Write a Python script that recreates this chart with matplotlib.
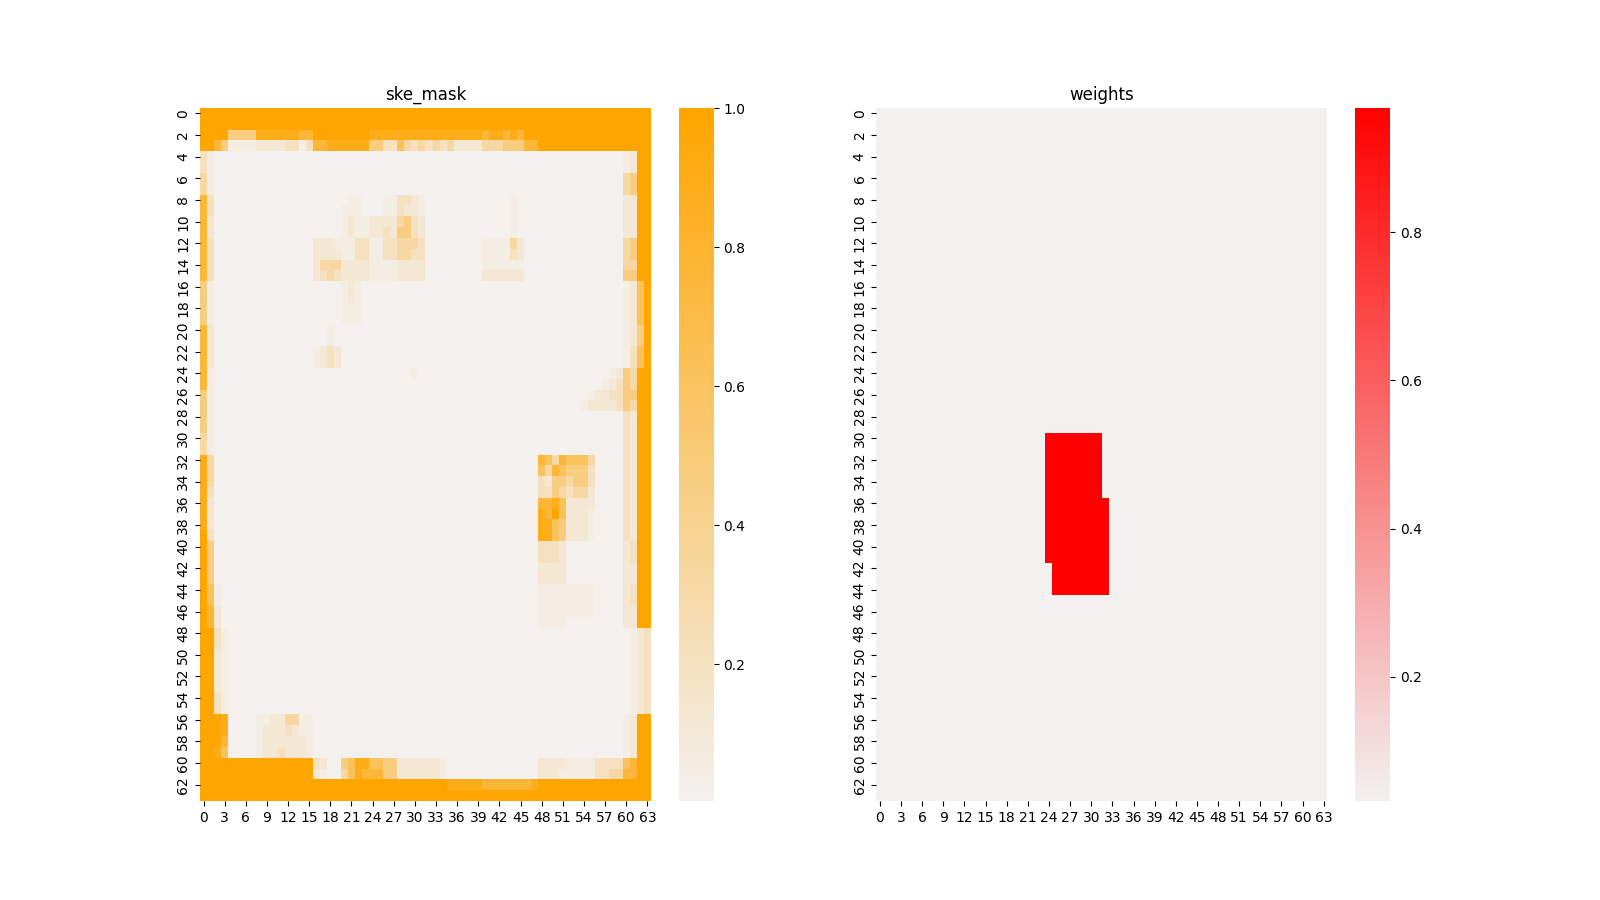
import numpy as np
import matplotlib
matplotlib.use("Agg")
import matplotlib.pyplot as plt
import seaborn as sns

# ske_mask: one string per row (64 cells, 8 groups of 8),
# each digit is an index into MASK_LEVELS
MASK_LEVELS = [0.003, 0.05, 0.11, 0.2, 0.32, 0.47, 0.62, 0.76, 0.89, 1.0]

MASK_ROWS = [
    "99999999 99999999 99999999 99999999 99999999 99999999 99999999 99999999",  # 0
    "99999999 99999999 99999999 99999999 99999999 99999999 99999999 99999999",
    "99995555 88888877 99999999 88888888 88888888 78878799 99999999 99999999",
    "99751111 22223313 77888888 55336434 34342222 44455577 99999999 99999999",
    "31000000 00000000 00000000 00000000 00000000 00000000 00000000 00001299",
    "31000000 00000000 00000000 00000000 00000000 00000000 00000000 00001299",
    "41000000 00000000 00000000 00000000 00000000 00000000 00000000 00004599",
    "41000000 00000000 00000000 00000000 00000000 00000000 00000000 00004599",
    "73000000 00000000 00000110 00113321 00000000 00001000 00000000 00002299",  # 8
    "73000000 00000000 00001110 00113221 00000000 00001000 00000000 00002299",
    "72000000 00000000 00001211 22224532 00000000 00001000 00000000 00002299",
    "72000000 00000000 00001211 22325532 00000000 00001000 00000000 00002299",
    "73000000 00000000 22211133 11334443 00000000 11114200 00000000 00004599",
    "73000000 00000000 22221133 11334433 00000000 11113200 00000000 00004599",
    "73000000 00000000 24442222 11112222 00000000 11111100 00000000 00004499",
    "73000000 00000000 23432222 11112222 00000000 22222200 00000000 00005599",
    "51000000 00000000 00001210 00000000 00000000 00000000 00000000 00001269",  # 16
    "51000000 00000000 00001210 00000000 00000000 00000000 00000000 00001269",
    "51000000 00000000 00001110 00000000 00000000 00000000 00000000 00001269",
    "51000000 00000000 00001110 00000000 00000000 00000000 00000000 00001269",
    "72000000 00000000 00100000 00000000 00000000 00000000 00000000 00001259",
    "72000000 00000000 00100000 00000000 00000000 00000000 00000000 00001259",
    "72000000 00000000 12320000 00000000 00000000 00000000 00000000 00001369",
    "72000000 00000000 12320000 00000000 00000000 00000000 00000000 00001369",
    "71000000 00000000 00000000 00000010 00000000 00000000 00000000 00125499",  # 24
    "71000000 00000000 00000000 00000000 00000000 00000000 00000000 01235499",
    "51000000 00000000 00000000 00000000 00000000 00000000 00000001 22335599",
    "51000000 00000000 00000000 00000000 00000000 00000000 00000012 22235499",
    "51000000 00000000 00000000 00000000 00000000 00000000 00000000 00003299",
    "51000000 00000000 00000000 00000000 00000000 00000000 00000000 00003299",
    "41000000 00000000 00000000 00000000 00000000 00000000 00000000 00003299",
    "41000000 00000000 00000000 00000000 00000000 00000000 00000000 00003299",
    "84000000 00000000 00000000 00000000 00000000 00000000 76476664 00003299",  # 32
    "84000000 00000000 00000000 00000000 00000000 00000000 64765553 00003299",
    "84000000 00000000 00000000 00000000 00000000 00000000 32554553 00003299",
    "83000000 00000000 00000000 00000000 00000000 00000000 33543442 00003299",
    "82000000 00000000 00000000 00000000 00000000 00000000 77862222 00003299",
    "82000000 00000000 00000000 00000000 00000000 00000000 87962221 00003299",
    "82000000 00000000 00000000 00000000 00000000 00000000 88652221 00003299",
    "93000000 00000000 00000000 00000000 00000000 00000000 88652221 00003299",
    "95000000 00000000 00000000 00000000 00000000 00000000 33320000 00002399",  # 40
    "95000000 00000000 00000000 00000000 00000000 00000000 33320000 00002399",
    "95000000 00000000 00000000 00000000 00000000 00000000 22220000 00002299",
    "95000000 00000000 00000000 00000000 00000000 00000000 22220000 00002299",
    "96100000 00000000 00000000 00000000 00000000 00000000 11111111 00002399",
    "96100000 00000000 00000000 00000000 00000000 00000000 11111111 00002399",
    "97200000 00000000 00000000 00000000 00000000 00000000 11111111 00002299",
    "97200000 00000000 00000000 00000000 00000000 00000000 11110000 00002299",
    "99310000 00000000 00000000 00000000 00000000 00000000 00000000 00000123",  # 48
    "99310000 00000000 00000000 00000000 00000000 00000000 00000000 00000123",
    "99210000 00000000 00000000 00000000 00000000 00000000 00000000 00000123",
    "99210000 00000000 00000000 00000000 00000000 00000000 00000000 00000123",
    "99210000 00000000 00000000 00000000 00000000 00000000 00000000 00000123",
    "99210000 00000000 00000000 00000000 00000000 00000000 00000000 00000123",
    "99310000 00000000 00000000 00000000 00000000 00000000 00000000 00000123",
    "99310000 00000000 00000000 00000000 00000000 00000000 00000000 00000123",
    "99980000 11224411 00000000 00000000 00000000 00000000 00000000 00001299",  # 56
    "99980000 12223211 00000000 00000000 00000000 00000000 00000000 00001299",
    "99970000 12222221 00000000 00000000 00000000 00000000 00000000 00001299",
    "99860000 12232221 00000000 00000000 00000000 00000000 00000000 00001299",
    "99999999 99999999 32005688 66552222 22100000 00000000 22221111 33336799",
    "99999999 99999999 21004687 77552222 22100000 00000000 22211111 33447799",
    "99999999 99999999 99999999 99999999 99988888 77777778 99999999 99999999",
    "99999999 99999999 99999999 99999999 99999999 99999999 99999999 99999999",
]

# weights: two overlapping boxes of high weight on a low background
WEIGHT_LOW = 0.032
WEIGHT_HIGH = 0.968
WEIGHT_BOXES = [(30, 41, 24, 31), (36, 44, 25, 32)]  # row_from, row_to, col_from, col_to (inclusive)
GRID = 64

mask = np.array([[MASK_LEVELS[int(ch)] for ch in "".join(r.split())] for r in MASK_ROWS])
mask = mask.reshape(GRID, GRID)

weights = np.full((GRID, GRID), WEIGHT_LOW)
for r0, r1, c0, c1 in WEIGHT_BOXES:
    weights[r0:r1 + 1, c0:c1 + 1] = WEIGHT_HIGH

fig, axes = plt.subplots(1, 2, figsize=(16, 9))

sns.heatmap(mask, ax=axes[0], cmap=sns.light_palette("orange", as_cmap=True))
axes[0].set_title("ske_mask")

sns.heatmap(weights, ax=axes[1], cmap=sns.light_palette("red", as_cmap=True))
axes[1].set_title("weights")

fig.savefig("out.png")
